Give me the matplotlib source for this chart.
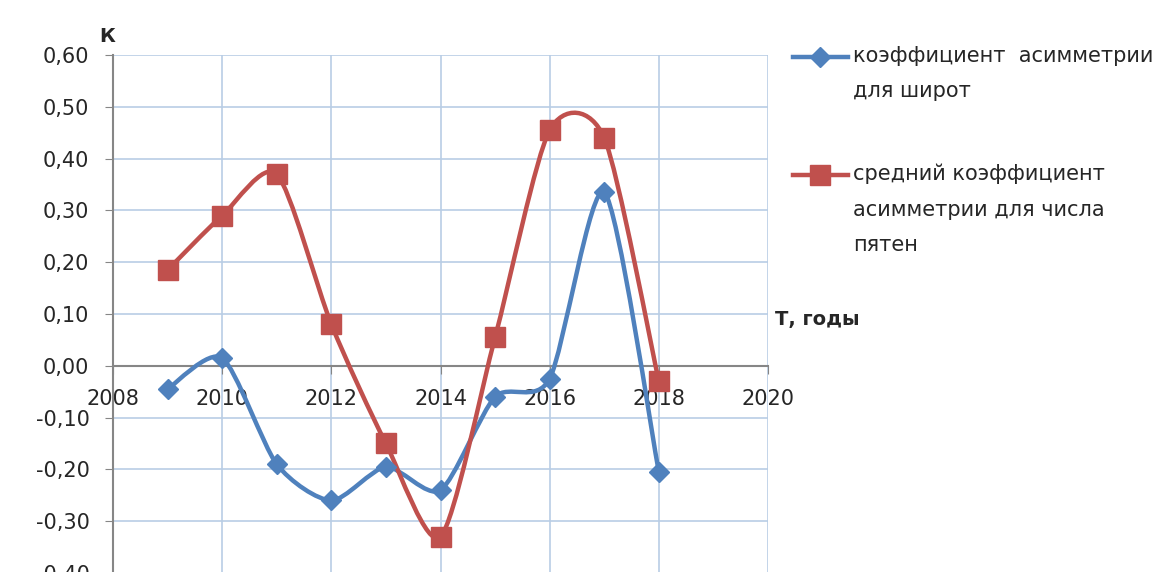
import matplotlib.pyplot as plt
import numpy as np
from matplotlib.path import Path
from matplotlib.patches import PathPatch
from matplotlib.lines import Line2D

plt.rcParams['font.family'] = ['DejaVu Sans']

# данные
years = [2009, 2010, 2011, 2012, 2013, 2014, 2015, 2016, 2017, 2018]
k_lat = [-0.045, 0.015, -0.19, -0.26, -0.195, -0.24, -0.06, -0.025, 0.335, -0.205]
k_spots = [0.185, 0.29, 0.37, 0.08, -0.15, -0.33, 0.055, 0.455, 0.44, -0.03]
label_lat = 'коэффициент  асимметрии\nдля широт'
label_spots = 'средний коэффициент\nасимметрии для числа\nпятен'
blue = '#4F81BD'
red = '#C0504D'
txt = '#262626'


def smooth_path(x, y, f=1 / 8):
    # сглаживание как в Excel (кривые Безье через точки)
    x = np.asarray(x, float)
    y = np.asarray(y, float)
    n = len(x)
    verts = [(x[0], y[0])]
    codes = [Path.MOVETO]
    for i in range(n - 1):
        i0 = max(i - 1, 0)
        i3 = min(i + 2, n - 1)
        c1 = (x[i] + (x[i + 1] - x[i0]) * f, y[i] + (y[i + 1] - y[i0]) * f)
        c2 = (x[i + 1] - (x[i3] - x[i]) * f, y[i + 1] - (y[i3] - y[i]) * f)
        verts += [c1, c2, (x[i + 1], y[i + 1])]
        codes += [Path.CURVE4] * 3
    return Path(verts, codes)


fig = plt.figure(figsize=(11.6, 5.72), dpi=100)
ax = fig.add_axes([113 / 1160, -1 / 572, 655 / 1160, 518 / 572])

series = [(k_lat, blue, 'D', 10), (k_spots, red, 's', 14)]
for y, c, m, ms in series:
    ax.add_patch(PathPatch(smooth_path(years, y), fill=False, edgecolor=c, lw=3.2, zorder=3))
    ax.plot(years, y, ls='none', marker=m, ms=ms, color=c, zorder=4)

ax.set_xlim(2008, 2020)
ax.set_ylim(-0.4, 0.6)
ax.set_xticks(range(2008, 2021, 2))
yt = np.arange(-0.4, 0.61, 0.1)
ax.set_yticks(yt)
ax.set_yticklabels([('%.2f' % v).replace('.', ',').replace('-0,00', '0,00') for v in yt])
ax.grid(True, color='#B9CDE5', lw=1.2)
ax.set_axisbelow(True)

for s in ['top', 'right']:
    ax.spines[s].set_visible(False)
ax.spines['bottom'].set_position(('data', 0))
for s in ['left', 'bottom']:
    ax.spines[s].set_color('#868686')
    ax.spines[s].set_linewidth(1.5)
ax.tick_params(axis='both', direction='out', length=6, color='#868686', labelsize=15, labelcolor=txt)
ax.tick_params(axis='x', pad=11)
ax.tick_params(axis='y', pad=11)

fig.text(107 / 1160, 1 - 36 / 572, 'К', fontsize=14, fontweight='bold', ha='center', va='center', color=txt)
fig.text(775 / 1160, 1 - 320 / 572, 'Т, годы', fontsize=14, fontweight='bold', ha='left', va='center', color=txt)

# легенда справа (маркер на уровне первой строки)
leg_y = [57, 175]
for (y, c, m, ms), lab, yy in zip(series, [label_lat, label_spots], leg_y):
    fy = 1 - yy / 572
    fig.add_artist(Line2D([793 / 1160, 848 / 1160], [fy, fy], color=c, lw=3.2,
                          transform=fig.transFigure))
    fig.add_artist(Line2D([820 / 1160], [fy], color=c, marker=m, ms=ms,
                          transform=fig.transFigure))
    fig.text(853 / 1160, fy + 11 / 572, lab, fontsize=15, ha='left', va='top',
             linespacing=1.95, color=txt)

fig.savefig('out.png', dpi=100)
